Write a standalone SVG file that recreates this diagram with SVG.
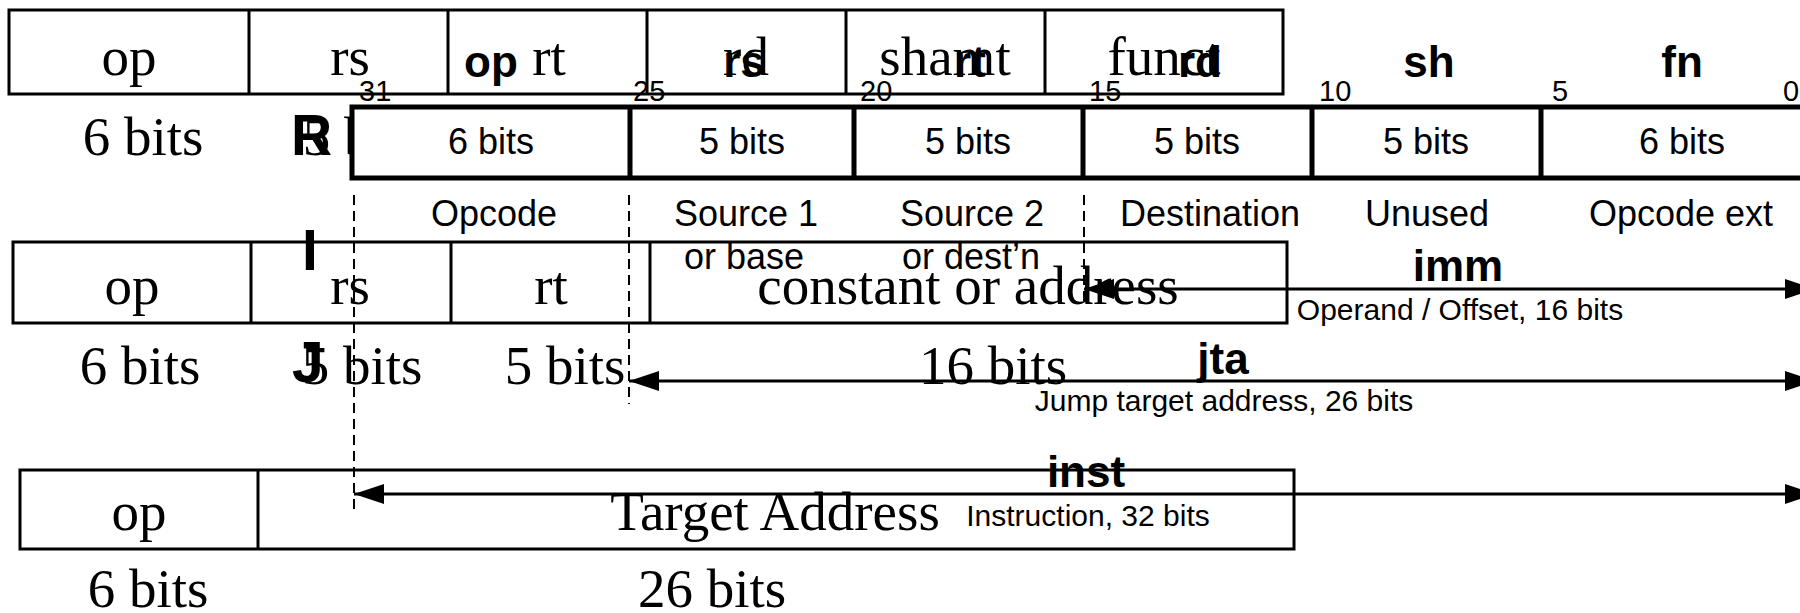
<svg xmlns="http://www.w3.org/2000/svg" width="1800" height="613" viewBox="0 0 1800 613">
<style>
.bg{fill:#fff}
.l1{fill:none;stroke:#000;stroke-width:3}
.l1t{font-family:"Liberation Serif",serif;font-size:55px;fill:#000;text-anchor:middle}
.box2{fill:#fff;stroke:#000;stroke-width:5}
.div2{stroke:#000;stroke-width:5}
.sans{font-family:"Liberation Sans",Arial,sans-serif;fill:#000}
.bits{font-size:36px;text-anchor:middle}
.num{font-size:29px}
.bold{font-size:44px;font-weight:bold;text-anchor:middle}
.fmt{font-size:57px;font-weight:bold}
.desc{font-size:36px;text-anchor:middle}
.small{font-size:30px;text-anchor:middle}
.dash{stroke:#000;stroke-width:2;stroke-dasharray:10 6;fill:none}
.arr{stroke:#000;stroke-width:3;fill:none;marker-start:url(#ah);marker-end:url(#ah)}
</style>
<defs>
<marker id="ah" markerUnits="userSpaceOnUse" markerWidth="30" markerHeight="20" refX="30" refY="10" orient="auto-start-reverse">
<path d="M0,0 L30,10 L0,20 z" fill="#000"/>
</marker>
</defs>
<rect class="bg" x="0" y="0" width="1800" height="613"/>

<g id="r-format-fields">
<rect class="l1" x="9" y="10" width="1274" height="84"/>
<path class="l1" d="M249,10V94M448,10V94M647,10V94M846,10V94M1045,10V94"/>
<text class="l1t" x="129" y="75">op</text>
<text class="l1t" x="350" y="75">rs</text>
<text class="l1t" x="549" y="75">rt</text>
<text class="l1t" x="746" y="75">rd</text>
<text class="l1t" x="945" y="75">shamt</text>
<text class="l1t" x="1164" y="75">funct</text>
<text class="l1t" x="143" y="155">6 bits</text>
<text class="l1t" x="363" y="155">5 bits</text>
</g>

<g id="i-format-fields">
<rect class="l1" x="13" y="242" width="1274" height="81"/>
<path class="l1" d="M251,242V323M451,242V323M650,242V323"/>
<text class="l1t" x="132" y="304">op</text>
<text class="l1t" x="350" y="304">rs</text>
<text class="l1t" x="551" y="304">rt</text>
<text class="l1t" x="968" y="304">constant or address</text>
<text class="l1t" x="140" y="384">6 bits</text>
<text class="l1t" x="362" y="384">5 bits</text>
<text class="l1t" x="565" y="384">5 bits</text>
<text class="l1t" x="993" y="384">16 bits</text>
</g>

<g id="j-format-fields">
<rect class="l1" x="20" y="470" width="1274" height="79"/>
<path class="l1" d="M258,470V549"/>
<text class="l1t" x="139" y="530">op</text>
<text class="l1t" x="775" y="530">Target Address</text>
<text class="l1t" x="148" y="607">6 bits</text>
<text class="l1t" x="712" y="607">26 bits</text>
</g>

<g id="r-type-bitfield" class="sans">
<rect class="box2" x="352" y="107" width="1471" height="71"/>
<path class="div2" d="M630,107V178M854,107V178M1083,107V178M1312,107V178M1541,107V178"/>
<text class="bits" x="491" y="154">6 bits</text>
<text class="bits" x="742" y="154">5 bits</text>
<text class="bits" x="968" y="154">5 bits</text>
<text class="bits" x="1197" y="154">5 bits</text>
<text class="bits" x="1426" y="154">5 bits</text>
<text class="bits" x="1682" y="154">6 bits</text>
<text class="num" x="359" y="101">31</text>
<text class="num" x="633" y="101">25</text>
<text class="num" x="860" y="101">20</text>
<text class="num" x="1089" y="101">15</text>
<text class="num" x="1319" y="101">10</text>
<text class="num" x="1552" y="101">5</text>
<text class="num" x="1783" y="101">0</text>
<text class="bold" x="491" y="77">op</text>
<text class="bold" x="744" y="77">rs</text>
<text class="bold" x="970" y="77">rt</text>
<text class="bold" x="1200" y="77">rd</text>
<text class="bold" x="1429" y="77">sh</text>
<text class="bold" x="1682" y="77">fn</text>
<text class="desc" x="494" y="226">Opcode</text>
<text class="desc" x="746" y="226">Source 1</text>
<text class="desc" x="972" y="226">Source 2</text>
<text class="desc" x="1210" y="226">Destination</text>
<text class="desc" x="1427" y="226">Unused</text>
<text class="desc" x="1681" y="226">Opcode ext</text>
<text class="desc" x="744" y="269">or base</text>
<text class="desc" x="971" y="269">or dest’n</text>
</g>

<g id="format-letters" class="sans">
<text class="fmt" x="291" y="155">R</text>
<text class="fmt" x="302" y="270">I</text>
<text class="fmt" x="292" y="382">J</text>
</g>

<g id="connectors">
<path class="dash" d="M354,195V511"/>
<path class="dash" d="M629,195V404"/>
<path class="dash" d="M1084,195V304"/>
<line class="arr" x1="1084" y1="289" x2="1815" y2="289"/>
<line class="arr" x1="629" y1="381" x2="1815" y2="381"/>
<line class="arr" x1="354" y1="494" x2="1815" y2="494"/>
</g>

<g id="range-labels" class="sans">
<text class="bold" x="1458" y="281">imm</text>
<text class="small" x="1460" y="320">Operand / Offset, 16 bits</text>
<text class="bold" x="1223" y="374">jta</text>
<text class="small" x="1224" y="411">Jump target address, 26 bits</text>
<text class="bold" x="1086" y="487">inst</text>
<text class="small" x="1088" y="526">Instruction, 32 bits</text>
</g>
</svg>
